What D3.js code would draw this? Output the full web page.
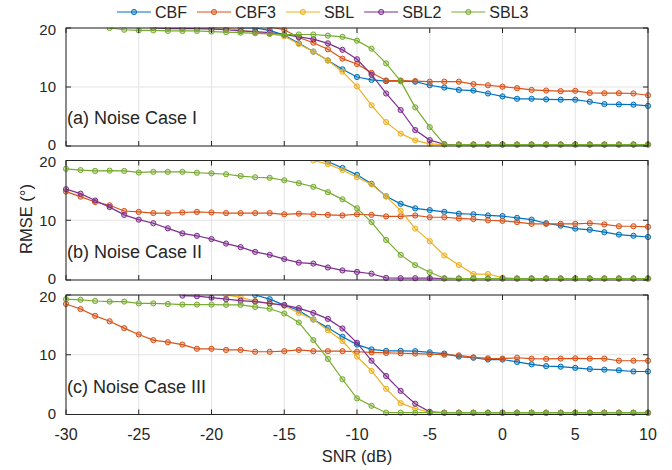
<!DOCTYPE html>
<html>
<head>
<meta charset="utf-8">
<script src="https://cdn.jsdelivr.net/npm/d3@7"></script>
<style>
  body { margin: 0; background: #fff; }
  text { font-family: "Liberation Sans", Arial, sans-serif; fill: #262626; }
</style>
</head>
<body>
<div id="content"></div>
<script>
var width = 672, height = 470;

// SNR steps (dB)
var snr = [-30,-29,-28,-27,-26,-25,-24,-23,-22,-21,-20,-19,-18,-17,-16,-15,-14,-13,-12,-11,
  -10,-9,-8,-7,-6,-5,-4,-3,-2,-1,0,1,2,3,4,5,6,7,8,9,10];
var xTicks = [-30,-25,-20,-15,-10,-5,0,5,10];
var yTicks = [0,10,20];
var methods = ['CBF','CBF3','SBL','SBL2','SBL3'];
var colors = ['#0072BD','#D95319','#EDB120','#7E2F8E','#77AC30'];
var panelLabels = ['(a) Noise Case I','(b) Noise Case II','(c) Noise Case III'];

// (a) Noise Case I
var cbfA = [null,null,null,null,null,null,null,null,null,null,null,null,
  20.0,20.0,19.6,18.8,17.4,16.0,14.5,13.0,11.7,11.2,11.0,11.0,10.9,10.3,9.9,9.5,9.4,8.9,8.4,8.0,8.0,7.9,7.85,7.85,7.5,7.1,7.05,7.0,6.8];
var cbf3A = [null,null,null,null,null,null,null,null,null,null,null,null,null,null,
  20.2,19.7,18.4,17.5,16.4,14.8,13.9,12.4,11.1,11.1,11.0,10.9,10.9,10.9,10.5,10.3,10.05,9.8,9.5,9.4,9.3,9.35,9.0,8.95,8.95,8.9,8.6];
var sblA = [null,null,null,null,null,null,null,null,null,null,
  20.1,20.0,19.6,19.3,19.0,18.6,17.3,16.0,14.5,12.6,10.1,6.9,4.05,2.1,0.95,0.35,
  0.25,0.25,0.25,0.25,0.25,0.25,0.25,0.25,0.25,0.25,0.25,0.25,0.25,0.25,0.25];
var sbl2A = [null,null,null,null,null,null,
  20.0,19.9,19.9,19.9,19.8,19.7,19.5,19.4,19.2,18.9,18.5,18.1,17.4,16.3,14.7,12.1,8.9,6.1,2.7,1.0,0.3,
  0.25,0.25,0.25,0.25,0.25,0.25,0.25,0.25,0.25,0.25,0.25,0.25,0.25,0.25];
var sbl3A = [null,null,null,
  20.0,19.7,19.6,19.6,19.5,19.5,19.5,19.4,19.3,19.2,19.1,19.0,18.9,18.9,18.9,18.7,18.5,17.85,16.5,14.0,11.0,6.55,3.2,0.3,
  0.25,0.25,0.25,0.25,0.25,0.25,0.25,0.25,0.25,0.25,0.25,0.25,0.25,0.25];

// (b) Noise Case II
var cbfB = [null,null,null,null,null,null,null,null,null,null,null,null,null,null,null,null,null,
  20.4,19.8,18.75,17.6,16.1,14.0,12.75,12.0,11.7,11.4,11.1,11.0,10.8,10.7,10.4,10.1,9.5,9.1,8.6,8.4,8.0,7.6,7.4,7.2];
var cbf3B = [14.8,13.95,13.05,12.5,11.55,11.4,11.2,11.2,11.3,11.4,11.3,11.2,11.2,11.2,11.2,11.0,11.1,11.0,10.9,10.8,
  11.0,10.9,10.65,10.65,10.8,10.5,10.5,10.3,10.2,10.0,9.9,9.7,9.4,9.4,9.4,9.4,9.5,9.3,9.0,9.0,8.9];
var sblB = [null,null,null,null,null,null,null,null,null,null,null,null,null,null,null,null,null,
  20.0,19.4,18.4,17.2,16.0,14.0,11.6,8.6,6.5,4.1,2.5,1.0,1.0,0.4,
  0.25,0.25,0.25,0.25,0.25,0.25,0.25,0.25,0.25,0.25];
var sbl2B = [15.2,14.45,13.3,12.2,10.9,10.1,9.5,8.65,7.8,7.4,6.85,6.1,5.5,4.7,4.2,3.5,2.9,2.75,2.1,1.6,
  1.35,1.05,0.35,0.3,0.3,0.3,0.25,0.25,0.25,0.25,0.25,0.25,0.25,0.25,0.25,0.25,0.25,0.25,0.25,0.25,0.25];
var sbl3B = [18.6,18.4,18.25,18.3,18.25,18.0,18.1,18.1,18.1,17.95,17.85,17.7,17.4,17.2,17.1,16.7,16.2,15.6,14.7,13.5,
  12.0,9.7,6.7,4.2,2.5,1.3,0.3,0.25,0.25,0.25,0.25,0.25,0.25,0.25,0.25,0.25,0.25,0.25,0.25,0.25,0.25];

// (c) Noise Case III
var cbfC = [null,null,null,null,null,null,null,null,null,null,null,null,null,
  20.0,19.3,18.3,17.4,15.9,14.5,13.0,11.7,10.9,10.65,10.65,10.6,10.4,10.2,9.7,9.5,9.2,9.2,8.8,8.4,8.1,8.0,7.8,7.6,7.5,7.4,7.2,7.2];
var cbf3C = [18.5,17.65,16.5,15.6,14.45,13.4,12.45,12.1,11.7,11.0,11.0,10.8,10.8,10.5,10.5,10.6,10.8,10.6,10.6,10.6,
  10.5,10.4,10.3,10.25,10.2,10.1,10.0,9.9,9.55,9.4,9.35,9.5,9.35,9.3,9.35,9.4,9.35,9.35,9.0,9.0,9.0];
var sblC = [null,null,null,null,null,null,null,null,null,null,null,
  20.0,19.6,19.0,18.6,18.2,17.0,15.9,14.1,12.3,9.7,7.3,4.3,1.9,1.0,0.35,
  0.3,0.3,0.3,0.3,0.3,0.3,0.3,0.3,0.3,0.3,0.3,0.3,0.3,0.3,0.3];
var sbl2C = [null,null,null,null,null,null,null,null,
  19.9,19.8,19.55,19.3,19.05,18.9,18.6,18.3,17.8,17.0,16.0,14.4,12.0,9.0,6.45,3.95,1.8,0.45,
  0.3,0.3,0.3,0.3,0.3,0.3,0.3,0.3,0.3,0.3,0.3,0.3,0.3,0.3,0.3];
var sbl3C = [19.3,19.2,19.0,18.9,18.9,18.6,18.6,18.5,18.4,18.4,18.4,18.35,18.35,18.0,17.7,16.9,15.4,12.45,9.3,5.9,
  2.7,1.45,0.3,0.3,0.3,0.3,0.3,0.3,0.3,0.3,0.3,0.3,0.3,0.3,0.3,0.3,0.3,0.3,0.3,0.3,0.3];

var panels = [
  {label: panelLabels[0], series: [cbfA, cbf3A, sblA, sbl2A, sbl3A], top: 28, bottom: 146},
  {label: panelLabels[1], series: [cbfB, cbf3B, sblB, sbl2B, sbl3B], top: 160.5, bottom: 280},
  {label: panelLabels[2], series: [cbfC, cbf3C, sblC, sbl2C, sbl3C], top: 295, bottom: 414.5}
];

var left = 66, right = 648;
var axisColor = '#262626', gridColor = '#e3e3e3';

var svg = d3.select('#content').append('svg')
  .attr('width', width)
  .attr('height', height);

var x = d3.scaleLinear().domain([-30, 10]).range([left, right]);

panels.forEach(function(p, pi){
  var y = d3.scaleLinear().domain([0, 20]).range([p.bottom, p.top]);
  var g = svg.append('g');
  var clipId = 'clip' + pi;
  svg.append('clipPath').attr('id', clipId)
    .append('rect')
    .attr('x', left - 4).attr('y', p.top - 0.5)
    .attr('width', right - left + 8).attr('height', p.bottom - p.top + 4);

  // grid
  g.selectAll('.vgrid').data(xTicks).enter().append('line')
    .attr('x1', function(d){ return x(d); }).attr('x2', function(d){ return x(d); })
    .attr('y1', p.top).attr('y2', p.bottom)
    .attr('stroke', gridColor).attr('stroke-width', 1);
  g.selectAll('.hgrid').data(yTicks).enter().append('line')
    .attr('x1', left).attr('x2', right)
    .attr('y1', function(d){ return y(d); }).attr('y2', function(d){ return y(d); })
    .attr('stroke', gridColor).attr('stroke-width', 1);

  // series
  var line = d3.line()
    .defined(function(d){ return d != null; })
    .x(function(d, i){ return x(snr[i]); })
    .y(function(d){ return y(d); });

  var plot = g.append('g').attr('clip-path', 'url(#' + clipId + ')');
  p.series.forEach(function(vals, si){
    plot.append('path')
      .attr('d', line(vals))
      .attr('fill', 'none')
      .attr('stroke', colors[si])
      .attr('stroke-width', 1.2);
    var pts = vals.map(function(v, i){ return {x: snr[i], v: v}; })
      .filter(function(d){ return d.v != null; });
    plot.selectAll(null).data(pts).enter().append('circle')
      .attr('cx', function(d){ return x(d.x); })
      .attr('cy', function(d){ return y(d.v); })
      .attr('r', 2.6)
      .attr('fill', colors[si]).attr('fill-opacity', 0.35)
      .attr('stroke', colors[si]).attr('stroke-width', 1);
  });

  // box + inward ticks
  g.append('rect')
    .attr('x', left).attr('y', p.top)
    .attr('width', right - left).attr('height', p.bottom - p.top)
    .attr('fill', 'none').attr('stroke', axisColor).attr('stroke-width', 1);
  xTicks.forEach(function(t){
    g.append('line').attr('x1', x(t)).attr('x2', x(t))
      .attr('y1', p.bottom).attr('y2', p.bottom - 5).attr('stroke', axisColor);
    g.append('line').attr('x1', x(t)).attr('x2', x(t))
      .attr('y1', p.top).attr('y2', p.top + 5).attr('stroke', axisColor);
  });
  yTicks.forEach(function(t){
    g.append('line').attr('x1', left).attr('x2', left + 5)
      .attr('y1', y(t)).attr('y2', y(t)).attr('stroke', axisColor);
    g.append('line').attr('x1', right).attr('x2', right - 5)
      .attr('y1', y(t)).attr('y2', y(t)).attr('stroke', axisColor);
    var shift = t === 20 ? 1.5 : (t === 0 ? -1 : 0);
    g.append('text')
      .attr('x', left - 10).attr('y', y(t) + shift).attr('dy', '0.36em')
      .attr('text-anchor', 'end')
      .attr('font-size', '15px')
      .text(t);
  });

  g.append('text')
    .attr('x', left + 1).attr('y', p.bottom - 22)
    .attr('font-size', '18px')
    .text(p.label);

  if(pi === panels.length - 1){
    xTicks.forEach(function(t){
      g.append('text')
        .attr('x', x(t)).attr('y', p.bottom + 25)
        .attr('text-anchor', 'middle')
        .attr('font-size', '16px')
        .text(t);
    });
  }
});

// axis titles
svg.append('text')
  .attr('x', (left + right) / 2).attr('y', 462)
  .attr('text-anchor', 'middle')
  .attr('font-size', '16.5px')
  .text('SNR (dB)');
svg.append('text')
  .attr('transform', 'translate(32,219) rotate(-90)')
  .attr('text-anchor', 'middle')
  .attr('font-size', '16.5px')
  .text('RMSE (°)');

// legend
var lx = 117;
methods.forEach(function(m, i){
  var lg = svg.append('g');
  lg.append('line')
    .attr('x1', lx).attr('x2', lx + 34)
    .attr('y1', 12).attr('y2', 12)
    .attr('stroke', colors[i]).attr('stroke-width', 1.2);
  lg.append('circle')
    .attr('cx', lx + 17).attr('cy', 12).attr('r', 2.6)
    .attr('fill', colors[i]).attr('fill-opacity', 0.35)
    .attr('stroke', colors[i]);
  var t = lg.append('text')
    .attr('x', lx + 38).attr('y', 12).attr('dy', '0.36em')
    .attr('font-size', '16px')
    .text(m);
  lx += 38 + t.node().getComputedTextLength() + 10;
});
</script>
</body>
</html>
